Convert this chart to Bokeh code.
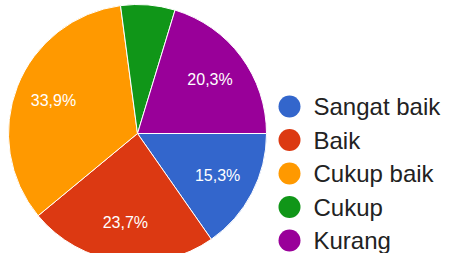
import numpy as np
from bokeh.plotting import figure
from bokeh.models import Range1d, ColumnDataSource
from bokeh.embed import file_html
from bokeh.resources import INLINE
from bokeh.core.properties import value

categories = ["Sangat baik", "Baik", "Cukup baik", "Cukup", "Kurang"]
percent = [15.3, 23.7, 33.9, 6.8, 20.3]
colors = ["#3366cc", "#dc3912", "#ff9900", "#109618", "#990099"]

W, H = 448, 253
p = figure(width=W, height=H, x_range=Range1d(0, W), y_range=Range1d(0, H),
           output_backend="svg", toolbar_location=None, min_border=0)
p.axis.visible = False
p.grid.visible = False
p.outline_line_color = None
p.background_fill_color = "white"

cx, cy, R = 137, 120, 129
frac = np.array(percent) / 100.0
cum = np.concatenate([[0], np.cumsum(frac)])
start = -cum[:-1] * 2 * np.pi
end = -cum[1:] * 2 * np.pi
mid = (start + end) / 2

src = ColumnDataSource(dict(start=start, end=end, color=colors, cat=categories))
p.wedge(x=cx, y=cy, radius=R, start_angle="start", end_angle="end", direction="clock",
        fill_color="color", line_color="white", line_width=1, source=src)

lab_r = 0.7 * R
show = [v >= 10 for v in percent]
lx = [cx + lab_r * np.cos(a) for a, s in zip(mid, show) if s]
ly = [cy + lab_r * np.sin(a) for a, s in zip(mid, show) if s]
lt = [f"{v:.1f}%".replace(".", ",") for v, s in zip(percent, show) if s]
p.text(x=lx, y=ly, text=lt, text_color="white", text_font=value("Liberation Sans"),
       text_font_size="16px", text_align="center", text_baseline="middle")

# legend
leg_x, leg_y0, leg_dy = 289, 147, 33.5
ys = [leg_y0 - i * leg_dy for i in range(len(categories))]
p.scatter(x=[leg_x] * len(categories), y=ys, size=22, marker="circle",
          fill_color=colors, line_color=None)
p.text(x=[leg_x + 24] * len(categories), y=ys, text=categories, text_color="#222222",
       text_font=value("Liberation Sans"), text_font_size="24px",
       text_align="left", text_baseline="middle")

open("out.html", "w").write(file_html(p, INLINE))
